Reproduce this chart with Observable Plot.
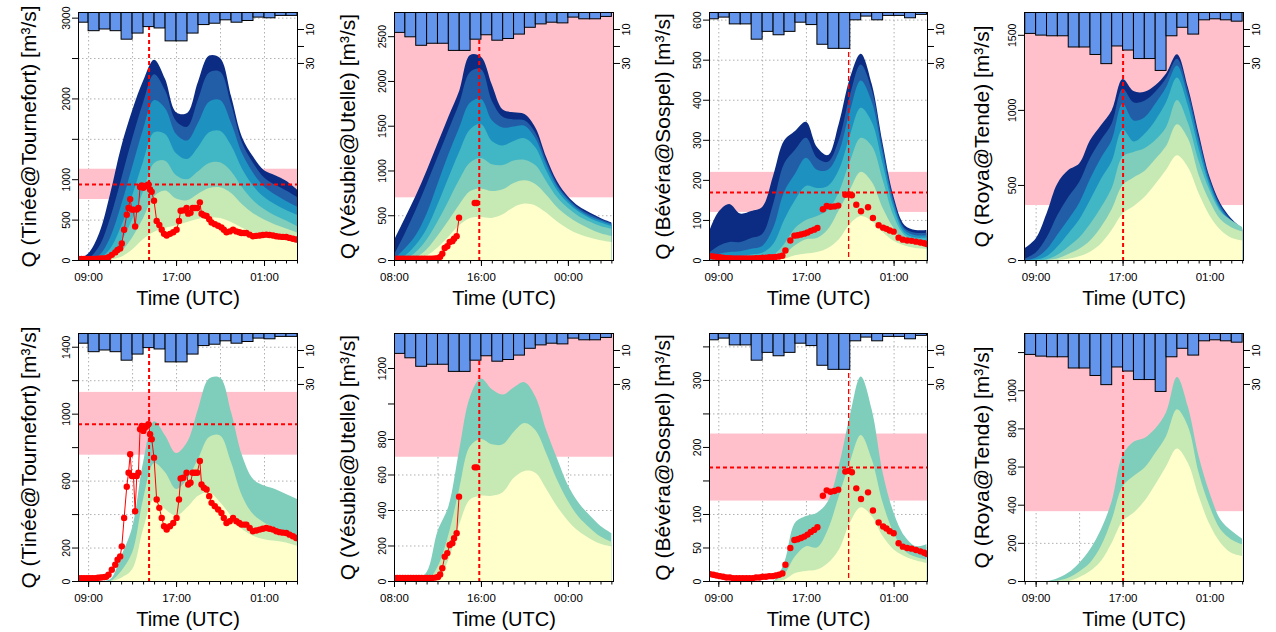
<!DOCTYPE html>
<html><head><meta charset="utf-8">
<script src="https://cdn.jsdelivr.net/npm/d3@7"></script>
<script src="https://cdn.jsdelivr.net/npm/@observablehq/plot@0.6"></script>
<style>
html,body{margin:0;padding:0;background:#fff;}
#chart{position:relative;width:1276px;height:632px;background:#fff;overflow:hidden;}
.panel{position:absolute;}
.panel svg{position:absolute;left:0;top:0;}
</style></head><body><div id="chart"></div>
<script>
// ---------- data ----------
const hours = [8,9,10,11,12,13,14,15,16,17,18,19,20,21,22,23,24,25,26,27,28];
const rainHours = [8,9,10,11,12,13,14,15,16,17,18,19,20,21,22,23,24,25,26,27];
const bandColors = ["#ffffcc","#c7e9b4","#7fcdbb","#41b6c4","#1d91c0","#225ea8","#0c2c84"];

// hourly rainfall [mm]
const rainTinee   = [6,11,10,11,16,12.4,8.6,9.4,17,17,12.4,7.4,6.6,4.6,6,5,3,3.4,2,2];
const rainVesubie = [12,14.6,19.6,18.4,18.4,22.6,22.6,16,13.4,16.6,15.6,13,9,7,6,6.4,3,4,4,2.6];
const rainBevera  = [4,3,7,7,16,11.4,13.4,11.4,6,7.4,19,21.4,21.4,4.6,2.4,4.6,2,2,3.4,1.4];
const rainRoya    = [12.6,13.6,14,14,20.6,20.6,25,30.4,20,22.4,27.4,27.4,34.4,14,9,13,4.6,4,4.6,5.4];

// forecast quantile bands (q1 lowest ... qN highest), values at `hours`
const tineeTopBands = [
  [0,0,0,5,40,130,260,350,400,430,470,510,530,520,470,400,340,300,270,240,210],
  [0,0,0,20,110,280,520,790,860,760,740,820,890,900,830,690,580,500,440,390,340],
  [0,0,5,60,230,500,850,1200,1230,1050,1000,1100,1200,1210,1100,900,740,630,550,490,420],
  [0,0,20,140,420,800,1220,1580,1560,1320,1250,1400,1580,1600,1420,1130,920,780,690,620,560],
  [0,5,60,280,680,1150,1620,1980,1880,1560,1480,1700,1960,1980,1700,1320,1080,910,810,730,660],
  [0,20,170,520,1000,1500,1950,2300,2100,1720,1650,1990,2320,2330,1930,1450,1200,1020,930,860,780],
  [10,80,330,820,1400,1850,2220,2480,2240,1830,1820,2210,2530,2500,2030,1520,1280,1110,1050,980,870]
];
const vesubieTopBands = [
  [0,0,8,50,140,260,390,470,480,470,510,590,630,610,530,430,350,290,250,220,200],
  [0,3,30,120,270,440,620,770,800,770,790,860,890,850,730,590,490,410,350,300,270],
  [0,15,90,230,430,660,900,1090,1140,1070,1060,1110,1120,1060,880,700,580,490,430,380,350],
  [0,50,170,350,620,920,1210,1460,1520,1330,1280,1330,1360,1260,1000,780,640,540,470,420,380],
  [10,130,280,520,850,1180,1480,1760,1800,1560,1480,1490,1500,1360,1070,820,670,560,490,440,395],
  [60,300,560,850,1150,1450,1750,2100,2130,1780,1600,1570,1560,1420,1110,850,690,580,510,455,410],
  [223,470,720,1000,1300,1600,1890,2290,2270,1960,1680,1650,1630,1480,1150,880,710,600,530,470,420]
];
const beveraTopBands = [
  [0,0,0,0,0,0,0,3,12,16,20,30,52,90,110,98,70,48,36,30,28],
  [0,0,0,0,0,1,3,15,37,52,55,77,125,175,220,195,130,80,47,40,36],
  [0,0,0,2,4,6,12,40,80,100,110,125,170,245,305,285,200,110,62,50,50],
  [0,5,8,10,14,18,40,100,150,185,180,185,225,310,380,345,240,130,68,56,56],
  [5,15,20,22,28,35,80,170,215,255,225,225,270,370,448,395,265,142,75,62,62],
  [15,35,45,45,55,65,140,240,275,305,255,245,300,410,488,425,280,150,80,68,68],
  [60,120,140,116,122,132,210,298,322,345,282,262,341,453,515,440,291,158,87,75,75]
];
const royaTopBands = [
  [0,0,0,0,8,25,55,110,201,310,358,419,506,602,698,620,445,297,201,148,130],
  [0,0,0,10,40,75,130,220,340,500,550,593,672,759,905,812,567,393,271,218,190],
  [0,0,5,35,89,150,240,350,480,690,720,745,800,885,1065,916,660,465,323,265,220],
  [0,3,25,90,177,270,400,540,660,870,790,840,930,1050,1215,1030,740,495,335,250,196],
  [0,15,70,170,270,380,540,680,800,1040,930,950,1040,1150,1295,1090,790,520,350,258,200],
  [10,50,150,300,420,520,680,800,910,1140,1050,1060,1120,1210,1340,1130,820,540,365,268,205],
  [80,144,310,510,599,643,798,898,998,1205,1125,1120,1164,1242,1370,1153,843,554,377,277,211]
];
const tineeBotBands = [
  [0,0,0,0,20,70,310,490,430,390,440,510,530,470,390,310,270,250,240,230,210],
  [0,0,0,0,60,170,490,705,650,550,610,730,860,870,710,510,400,350,320,290,250],
  [0,0,0,10,150,320,710,955,870,765,830,1030,1210,1215,1010,750,610,570,550,520,490]
];
const vesubieBotBands = [
  [0,0,0,0,10,120,320,460,480,480,500,580,620,610,520,420,340,280,240,210,195],
  [0,0,0,0,80,260,520,760,800,770,770,840,890,850,720,570,450,360,300,250,220],
  [0,0,0,50,280,420,740,1040,1140,1080,1050,1090,1120,1040,850,690,540,440,370,310,270]
];
const beveraBotBands = [
  [0,0,0,0,0,0,0,2,12,15,17,27,47,87,110,97,67,47,37,31,27],
  [0,0,0,0,0,0,0,10,37,52,50,77,127,177,218,182,117,72,45,36,32],
  [0,0,0,0,0,0,0,27,87,97,102,119,172,246,305,256,162,102,67,52,55]
];
const royaBotBands = [
  [0,0,0,0,0,20,52,105,201,314,358,419,506,602,695,620,445,297,201,148,131],
  [0,0,0,3,17,50,96,183,323,497,550,593,672,759,900,812,567,393,271,218,192],
  [0,0,0,15,44,95,166,270,419,660,730,750,800,885,1070,916,654,462,323,265,222]
];

// observed discharge [hour, m3/s]
const obsTinee = [[8.1,20],[8.35,20],[8.6,20],[8.85,20],[9.1,20],[9.35,20],[9.6,20],[9.85,22],[10.1,24],[10.35,26],[10.6,28],[10.81,40],[11.11,70],[11.42,100],[11.63,130],[11.87,150],[12.02,210],[12.23,380],[12.47,566],[12.63,650],[12.78,760],[12.93,630],[13.08,630],[13.23,420],[13.38,630],[13.53,650],[13.68,910],[13.83,930],[13.98,900],[14.14,920],[14.29,930],[14.44,940],[14.59,880],[14.74,850],[14.95,740],[15.19,490],[15.43,440],[15.65,380],[15.86,330],[16.1,310],[16.4,330],[16.7,350],[17.0,380],[17.22,490],[17.37,616],[17.61,620],[17.91,650],[18.06,580],[18.27,590],[18.46,650],[18.67,650],[18.88,650],[19.12,720],[19.27,580],[19.48,560],[19.73,550],[19.97,510],[20.18,470],[20.48,450],[20.78,430],[21.08,410],[21.3,380],[21.54,350],[21.84,360],[22.14,380],[22.44,360],[22.7,350],[22.9,340],[23.15,340],[23.35,340],[23.65,320],[23.95,300],[24.25,305],[24.56,310],[24.85,315],[25.16,320],[25.45,315],[25.77,310],[26.07,300],[26.37,295],[26.67,292],[26.98,290],[27.28,280],[27.58,270],[27.88,260]];
const obsVesubie = [[8.0,20],[8.25,20],[8.5,20],[8.75,20],[9.0,20],[9.25,20],[9.5,20],[9.75,20],[10.0,20],[10.25,20],[10.5,20],[10.75,20],[11.0,20],[11.25,20],[11.5,20],[11.75,22],[12.0,25],[12.2,40],[12.4,75],[12.62,140],[12.86,160],[13.08,206],[13.32,216],[13.48,244],[13.72,272],[13.94,478],[14.6,NaN],[15.38,643],[15.57,643]];
const obsBevera = [[8.2,11],[8.5,10],[8.8,9],[9.1,8],[9.4,7],[9.7,6],[10.0,6],[10.3,5],[10.6,5],[10.9,5],[11.2,5],[11.5,5],[11.8,5],[12.1,5],[12.4,6],[12.7,6],[13.0,7],[13.3,7],[13.6,8],[13.9,8],[14.2,9],[14.5,10],[14.8,12],[15.08,25],[15.53,50],[15.9,62],[16.2,63],[16.5,65],[16.8,67],[17.1,70],[17.4,74],[17.7,77],[18.0,81],[18.5,128],[18.85,136],[19.2,134],[19.55,135],[19.9,137],[20.55,164],[20.85,165],[21.15,163],[21.55,139],[21.98,123],[22.62,133],[23.07,106],[23.59,88],[24.0,82],[24.3,79],[24.6,75],[24.96,72],[25.41,57],[25.8,52],[26.2,50],[26.6,49],[27.0,47],[27.4,45],[27.75,43],[28.0,41]];

// thresholds / forecast times
const pinkTinee = [755,1130], pinkVesubie = [700,99999], pinkBevera = [120,220], pinkRoya = [366,99999];
const thrTinee = 940, thrBevera = 170;
const tfTinee = 14.5, tfVesubie = 15.8, tfBevera = 20.85, tfRoya = 17.0;

const labelsTinee = "Q (Tinée@Tournefort) [m³/s]";
const labelsVesubie = "Q (Vésubie@Utelle) [m³/s]";
const labelsBevera = "Q (Bévéra@Sospel) [m³/s]";
const labelsRoya = "Q (Roya@Tende) [m³/s]";

// ---------- drawing ----------
const FONT = "'Liberation Sans', Arial, Helvetica, sans-serif";
const fmtHour = h => String(((Math.round(h) % 24) + 24) % 24).padStart(2, "0") + ":00";
function seq(a, b, s) { const r = []; for (let v = a; v <= b + 1e-9; v += s) r.push(Math.round(v * 1000) / 1000); return r; }

const cols = [
  {left: 0,   width: 316, ml: 78, mr: 19, xDomain: [8.08, 28.0],  xLabels: [9,17,25], gridX: [9,13,17,21,25], ylabDx: -49},
  {left: 316, width: 320, ml: 78, mr: 23, xDomain: [8.0, 28.15],  xLabels: [8,16,24], gridX: [8,12,16,20,24], ylabDx: -46},
  {left: 636, width: 320, ml: 73, mr: 29, xDomain: [8.15, 28.05], xLabels: [9,17,25], gridX: [9,13,17,21,25], ylabDx: -46},
  {left: 956, width: 320, ml: 68, mr: 33, xDomain: [7.93, 28.08], xLabels: [9,17,25], gridX: [9,13,17,21,25], ylabDx: -42}
];
const rows = [
  {top: 0,   mt: 12, mb: 56},
  {top: 316, mt: 17, mb: 51}
];

const panels = [
  {c:0, r:0, bands: tineeTopBands,   rain: rainTinee,   obs: obsTinee,   line: true,  pink: pinkTinee,   thr: thrTinee,  tf: tfTinee,   yDomain:[0,3070], yTicks: seq(0,3000,500), yLab:[0,500,1000,2000,3000], ylab: labelsTinee},
  {c:1, r:0, bands: vesubieTopBands, rain: rainVesubie, obs: obsVesubie, line: true,  pink: pinkVesubie, thr: null,      tf: tfVesubie, yDomain:[0,2770], yTicks: seq(0,2500,500), yLab: seq(0,2500,500), ylab: labelsVesubie},
  {c:2, r:0, bands: beveraTopBands,  rain: rainBevera,  obs: obsBevera,  line: false, pink: pinkBevera,  thr: thrBevera, tf: tfBevera,  thin: true, yDomain:[0,619], yTicks: seq(0,600,100), yLab: seq(0,600,100), ylab: labelsBevera},
  {c:3, r:0, bands: royaTopBands,    rain: rainRoya,    obs: null,       line: false, pink: pinkRoya,    thr: null,      tf: tfRoya,    yDomain:[0,1652], yTicks: seq(0,1500,500), yLab: seq(0,1500,500), ylab: labelsRoya},
  {c:0, r:1, bands: tineeBotBands,   rain: rainTinee,   obs: obsTinee,   line: true,  pink: pinkTinee,   thr: thrTinee,  tf: tfTinee,   yDomain:[0,1482], yTicks: seq(0,1400,200), yLab:[0,200,600,1000,1400], ylab: labelsTinee},
  {c:1, r:1, bands: vesubieBotBands, rain: rainVesubie, obs: obsVesubie, line: true,  pink: pinkVesubie, thr: null,      tf: tfVesubie, yDomain:[0,1397], yTicks: seq(0,1200,200), yLab:[0,200,400,600,800,1200], ylab: labelsVesubie},
  {c:2, r:1, bands: beveraBotBands,  rain: rainBevera,  obs: obsBevera,  line: false, pink: pinkBevera,  thr: thrBevera, tf: tfBevera,  thin: true, yDomain:[0,370], yTicks: seq(0,350,50), yLab:[0,50,100,200,300], ylab: labelsBevera},
  {c:3, r:1, bands: royaBotBands,    rain: rainRoya,    obs: null,       line: false, pink: pinkRoya,    thr: null,      tf: tfRoya,    yDomain:[0,1300], yTicks: seq(0,1200,200), yLab: seq(0,1000,200), ylab: labelsRoya}
];

const chart = document.getElementById("chart");
const H = 316;

for (const p of panels) {
  const col = cols[p.c], row = rows[p.r];
  const div = document.createElement("div");
  div.className = "panel";
  div.style.left = col.left + "px"; div.style.top = row.top + "px";
  div.style.width = col.width + "px"; div.style.height = H + "px";
  const common = {
    width: col.width, height: H,
    marginLeft: col.ml, marginRight: col.mr, marginTop: row.mt, marginBottom: row.mb,
    style: {background: "transparent", fontFamily: FONT, overflow: "visible", color: "black"}
  };
  const minor = [];
  for (let h = Math.ceil(col.xDomain[0]); h <= Math.floor(col.xDomain[1]); h++) minor.push(h);
  const grid = {stroke: "#b0b0b0", strokeOpacity: 1, strokeDasharray: "1.5,2.5", strokeWidth: 1};
  const marks = [
    Plot.gridY(p.yTicks, grid),
    Plot.gridX(col.gridX, grid),
    Plot.rect([p.pink], {x1: col.xDomain[0], x2: col.xDomain[1], y1: d => d[0], y2: d => Math.min(d[1], p.yDomain[1]), fill: "pink", clip: true})
  ];
  for (let k = p.bands.length - 1; k >= 0; k--) {
    marks.push(Plot.area(hours, {x1: hours, y1: 0, y2: p.bands[k], fill: bandColors[k], curve: "catmull-rom", clip: true}));
  }
  if (p.thr != null) marks.push(Plot.ruleY([p.thr], {stroke: "red", strokeWidth: 2, strokeDasharray: "4,3"}));
  if (p.obs) {
    if (p.line) marks.push(Plot.line(p.obs, {x: d => d[0], y: d => d[1], stroke: "red", strokeWidth: 1, clip: true}));
    marks.push(Plot.dot(p.obs, {x: d => d[0], y: d => d[1], r: 3.2, fill: "red", stroke: "none", clip: true}));
  }
  marks.push(Plot.ruleX([p.tf], p.thin
    ? {stroke: "red", strokeWidth: 1.3, strokeDasharray: "5,3"}
    : {stroke: "red", strokeWidth: 2, strokeDasharray: "4,3"}));
  marks.push(
    Plot.axisX(col.xLabels, {tickSize: 6, tickPadding: 6, tickFormat: fmtHour, fontSize: 11.5, label: null}),
    Plot.axisX(minor, {tickSize: 3.5, tickFormat: () => "", label: null}),
    Plot.axisY(p.yTicks, {tickSize: 6, tickPadding: 3, tickRotate: -90, textAnchor: "middle", lineAnchor: "bottom",
      tickFormat: d => p.yLab.includes(d) ? String(d) : "", fontSize: 10.5, label: null}),
    Plot.text(["Time (UTC)"], {frameAnchor: "bottom", dy: 38, fontSize: 20, text: d => d, textAnchor: "middle", lineAnchor: "middle"}),
    Plot.text([p.ylab], {frameAnchor: "left", dx: col.ylabDx, rotate: -90, fontSize: 21, text: d => d, textAnchor: "middle", lineAnchor: "middle"})
  );
  const main = Plot.plot({...common, x: {domain: col.xDomain}, y: {domain: p.yDomain}, marks});
  const over = Plot.plot({...common,
    x: {domain: col.xDomain, axis: null},
    y: {domain: [0, 146], reverse: true},
    marks: [
      Plot.rect(rainHours, {x1: d => d, x2: d => d + 1, y1: 0, y2: p.rain, fill: "#6495ed", stroke: "black", strokeWidth: 1, clip: true}),
      Plot.axisY([10, 20, 30], {anchor: "right", tickSize: 6, tickPadding: 3, tickRotate: -90, textAnchor: "middle", lineAnchor: "top",
        tickFormat: d => d === 20 ? "" : String(d), fontSize: 11, label: null}),
      Plot.frame({stroke: "black", strokeWidth: 1})
    ]});
  div.appendChild(main);
  div.appendChild(over);
  chart.appendChild(div);
}
</script>
</body></html>
